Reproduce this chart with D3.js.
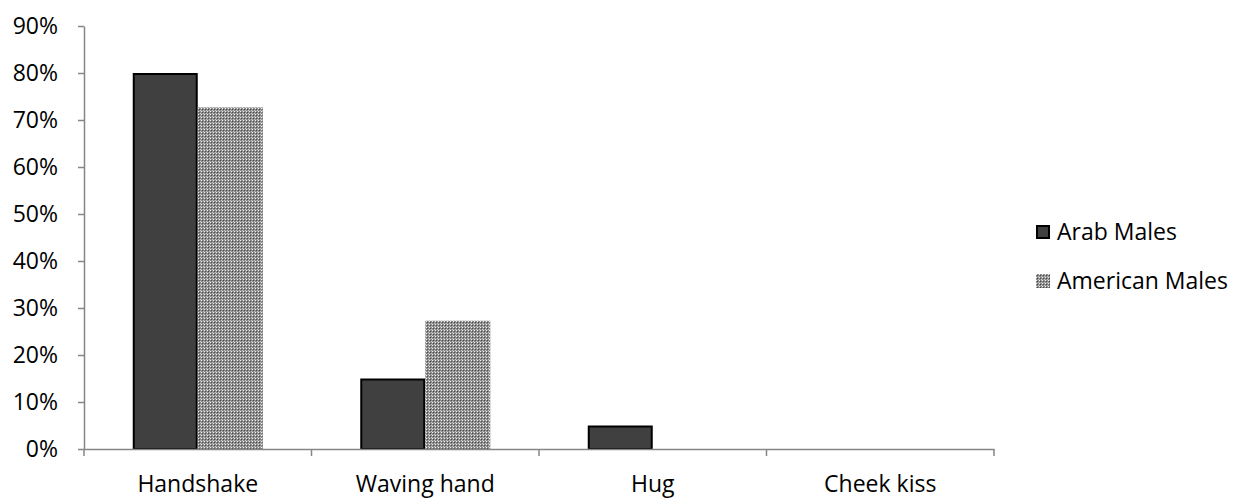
<!DOCTYPE html>
<html>
<head>
<meta charset="utf-8">
<script src="https://cdn.jsdelivr.net/npm/d3@7"></script>
<style>
  body { margin: 0; background: #fff; }
  svg text { font-family: "Open Sans", Lato, sans-serif; fill: #000; }
</style>
</head>
<body>
<svg id="chart" width="1242" height="500"></svg>
<script>
// Greeting styles by group (share of respondents)
const categories = ["Handshake", "Waving hand", "Hug", "Cheek kiss"];
const seriesNames = ["Arab Males", "American Males"];
const arabMales = [0.80, 0.15, 0.05, 0];
const americanMales = [0.727, 0.273, 0, 0];
const yTicks = [0, 0.1, 0.2, 0.3, 0.4, 0.5, 0.6, 0.7, 0.8, 0.9];

const FONT = "'Open Sans', Lato, sans-serif";
const FS = 23;

const svg = d3.select("#chart");
const plot = { left: 84, right: 994, top: 26, bottom: 449 };

// Checkered fill for the second series
const defs = svg.append("defs");
const pat = defs.append("pattern")
  .attr("id", "checker")
  .attr("patternUnits", "userSpaceOnUse")
  .attr("width", 3).attr("height", 3);
pat.append("rect").attr("width", 3).attr("height", 3).attr("fill", "#8a8a8a");
pat.append("rect").attr("x", 0).attr("y", 0).attr("width", 1).attr("height", 1).attr("fill", "#f0f0f0");
pat.append("rect").attr("x", 1).attr("y", 1).attr("width", 1).attr("height", 1).attr("fill", "#4a4a4a");
pat.append("rect").attr("x", 2).attr("y", 2).attr("width", 1).attr("height", 1).attr("fill", "#c4c4c4");

const x = d3.scaleBand().domain(categories).range([plot.left, plot.right]).paddingInner(0).paddingOuter(0);
const xs = d3.scaleBand().domain(seriesNames).range([0, x.bandwidth()]).paddingInner(0).paddingOuter(0.75);
const y = d3.scaleLinear().domain([0, 0.9]).range([plot.bottom, plot.top]);

const series = [
  { name: seriesNames[0], values: arabMales, fill: "#404040", stroke: "#000", sw: 2 },
  { name: seriesNames[1], values: americanMales, fill: "url(#checker)", stroke: "none", sw: 0 }
];

// Bars
series.forEach(s => {
  svg.append("g").selectAll("rect")
    .data(categories.map((c, i) => ({ c, v: s.values[i] })).filter(d => d.v > 0))
    .join("rect")
    .attr("x", d => x(d.c) + xs(s.name) + s.sw / 2)
    .attr("y", d => y(d.v) + s.sw / 2)
    .attr("width", xs.bandwidth() - s.sw)
    .attr("height", d => y(0) - y(d.v) - s.sw / 2)
    .attr("fill", s.fill)
    .attr("stroke", s.stroke)
    .attr("stroke-width", s.sw);
});

// Y axis
const yAxis = svg.append("g")
  .attr("transform", `translate(${plot.left},0)`)
  .call(d3.axisLeft(y).tickValues(yTicks).tickFormat(d3.format(".0%")).tickSize(6).tickSizeOuter(0));
yAxis.select(".domain").attr("stroke", "#868686").attr("stroke-width", 1.5);
yAxis.selectAll(".tick line").attr("stroke", "#868686").attr("stroke-width", 1.5);
yAxis.selectAll(".tick text").attr("x", -26).attr("font-size", FS)
  .style("font-family", FONT).attr("fill", "#000");

// X axis
const xAxis = svg.append("g")
  .attr("transform", `translate(0,${plot.bottom})`)
  .call(d3.axisBottom(x).tickSize(0).tickSizeOuter(0));
xAxis.select(".domain").attr("stroke", "#868686").attr("stroke-width", 1.5);
xAxis.selectAll(".tick text").attr("y", 43).attr("dy", 0).attr("font-size", FS)
  .style("font-family", FONT).attr("fill", "#000");
// category boundary ticks
const bounds = categories.map(c => x(c)).concat([plot.right]);
svg.append("g").selectAll("line").data(bounds).join("line")
  .attr("x1", d => d).attr("x2", d => d)
  .attr("y1", plot.bottom).attr("y2", plot.bottom + 7)
  .attr("stroke", "#868686").attr("stroke-width", 1.5);

// Legend
const legend = svg.append("g").attr("transform", "translate(1036,225)");
series.forEach((s, i) => {
  const g = legend.append("g").attr("transform", `translate(0,${i * 49})`);
  g.append("rect")
    .attr("x", s.sw / 2).attr("y", s.sw / 2)
    .attr("width", 14 - s.sw).attr("height", 14 - s.sw)
    .attr("fill", s.fill).attr("stroke", s.stroke).attr("stroke-width", s.sw);
  g.append("text").attr("x", 21).attr("y", 15)
    .attr("font-size", FS).style("font-family", FONT).text(s.name);
});
</script>
</body>
</html>
